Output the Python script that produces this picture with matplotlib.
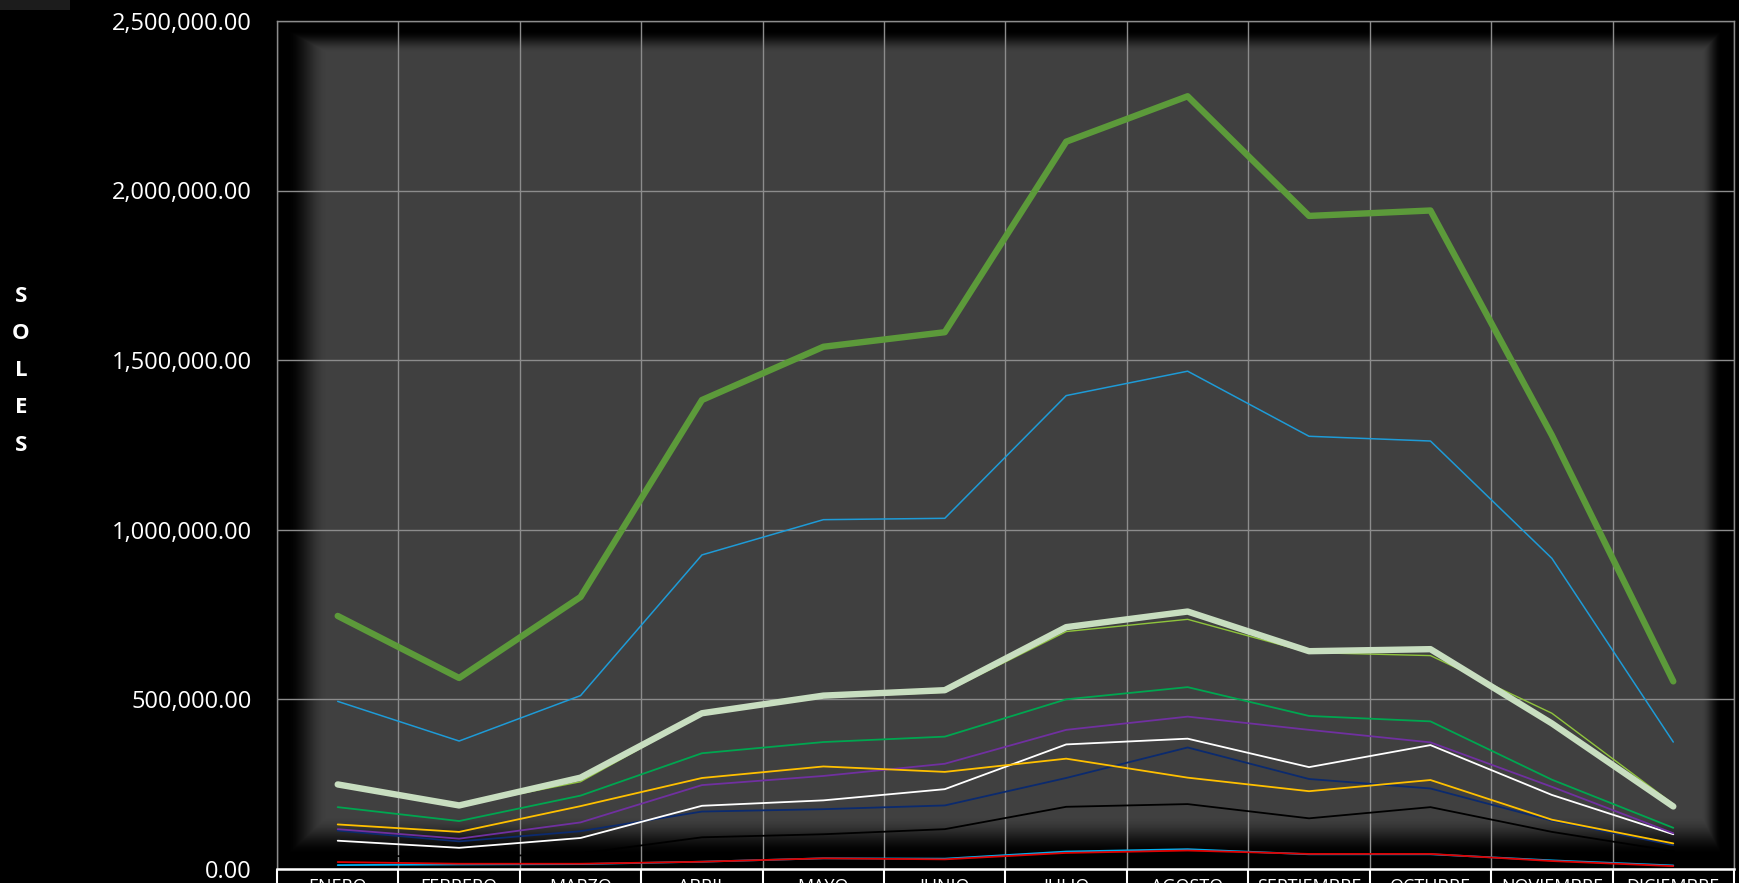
import numpy as np
import matplotlib
matplotlib.use("Agg")
import matplotlib.pyplot as plt
from matplotlib.ticker import FuncFormatter, FixedLocator
from matplotlib.patches import Rectangle

plt.rcParams["font.family"] = ["Open Sans", "DejaVu Sans"]

# months on the x axis
meses = ["ENERO", "FEBRERO", "MARZO", "ABRIL", "MAYO", "JUNIO", "JULIO",
         "AGOSTO", "SEPTIEMBRE", "OCTUBRE", "NOVIEMBRE", "DICIEMBRE"]

# values in soles
total = [745000, 562000, 801000, 1382000, 1539000, 1582000, 2144000,
         2278000, 1925000, 1941000, 1278000, 552000]
serie_azul = [493000, 376000, 510000, 925000, 1029000, 1033000, 1395000,
              1467000, 1275000, 1261000, 915000, 373000]
serie_palida = [248000, 186000, 268000, 458000, 510000, 526000, 712000,
                758000, 641000, 647000, 428000, 183000]
serie_lima = [245000, 185000, 256000, 455000, 505000, 520000, 699000,
              735000, 637000, 628000, 458000, 190000]
serie_verde = [181000, 140000, 215000, 340000, 373000, 389000, 499000,
               535000, 450000, 434000, 262000, 120000]
serie_naranja = [130000, 108000, 184000, 267000, 301000, 285000, 324000,
                 268000, 228000, 261000, 144000, 74000]
serie_morada = [116000, 88000, 136000, 246000, 273000, 309000, 409000,
                448000, 409000, 372000, 241000, 104000]
serie_blanca = [82000, 61000, 90000, 185000, 201000, 234000, 366000,
                383000, 299000, 364000, 217000, 101000]
serie_marino = [112000, 80000, 110000, 168000, 175000, 186000, 267000,
                357000, 264000, 236000, 141000, 69000]
serie_negra = [40000, 33000, 44000, 92000, 101000, 116000, 182000,
               190000, 148000, 181000, 108000, 51000]
serie_roja = [19000, 14000, 14000, 20000, 30000, 27000, 46000,
              53000, 43000, 43000, 22000, 7000]
serie_celeste = [10000, 12000, 13000, 20000, 30000, 29000, 50000,
                 57000, 42000, 42000, 24000, 9000]


def vignette(w, h):
    # inner shadow: black core at each edge, then a soft fade to the grey
    yy, xx = np.mgrid[0:h, 0:w]

    def fade(d, core, width):
        t = np.clip(1 - (d - core) / width, 0, 1)
        return t * t * (3 - 2 * t)

    a = np.maximum.reduce([
        fade(xx, 10.0, 40.0),
        fade(w - 1 - xx, 12.0, 20.0),
        fade(yy, 9.0, 22.0),
        fade(h - 1 - yy, 14.0, 38.0),
    ])
    img = np.zeros((h, w, 4))
    img[..., 3] = a
    return img


def plot_chart():

    fig = plt.figure(figsize=(17.40, 8.83), dpi=100, facecolor="black")
    ax = fig.add_axes([277 / 1740, 14.5 / 883, 1457 / 1740, 847.5 / 883])
    ax.set_facecolor("#404040")

    x = np.arange(len(meses))

    ax.imshow(vignette(1457, 848), extent=[0, 1, 0, 1],
              transform=ax.transAxes, aspect="auto", zorder=0.2,
              interpolation="bilinear")

    series = [
        (serie_celeste, "#00b0f0", 1.3),
        (serie_roja, "#e00000", 1.3),
        (serie_negra, "#000000", 1.3),
        (serie_marino, "#0b2a6e", 1.3),
        (serie_blanca, "#ffffff", 1.3),
        (serie_morada, "#7030a0", 1.3),
        (serie_naranja, "#ffc000", 1.3),
        (serie_verde, "#00a650", 1.3),
        (serie_lima, "#8fc43c", 1.0),
        (serie_palida, "#c8dec0", 4.6),
        (serie_azul, "#1e9bd7", 1.1),
        (total, "#5c9a3a", 4.6),
    ]
    for vals, color, lw in series:
        ax.plot(x, vals, color=color, linewidth=lw,
                solid_joinstyle="round", solid_capstyle="round", zorder=2)

    ax.set_xlim(-0.5, len(meses) - 0.5)
    ax.set_ylim(0, 2500000)
    ax.set_yticks(np.arange(0, 2500001, 500000))
    ax.yaxis.set_major_formatter(FuncFormatter(lambda v, p: f"{v:,.2f}"))

    ax.set_xticks(x)
    ax.set_xticklabels(meses)
    ax.xaxis.set_minor_locator(FixedLocator(np.arange(-0.5, len(meses), 1.0)))

    ax.set_axisbelow(True)
    ax.grid(True, which="minor", axis="x", color="#8c8c8c", linewidth=1.0, zorder=0.5)
    ax.grid(True, which="major", axis="y", color="#8c8c8c", linewidth=1.0, zorder=0.5)

    ax.tick_params(axis="y", length=0, pad=18, labelsize=17, labelcolor="white")
    ax.tick_params(axis="x", which="major", length=0, pad=7, labelsize=13,
                   labelcolor="white")
    ax.tick_params(axis="x", which="minor", length=30, width=1.5,
                   color="white", direction="out")

    for side in ["top", "right", "left"]:
        ax.spines[side].set_color("#8c8c8c")
        ax.spines[side].set_linewidth(1.0)
    ax.spines["bottom"].set_color("white")
    ax.spines["bottom"].set_linewidth(1.8)

    # vertical axis title, one letter under the other
    for i, letra in enumerate("SOLES"):
        fig.text(21 / 1740, 1 - (296 + i * 37.3) / 883, letra, color="white",
                 fontsize=16, fontweight="bold", ha="center", va="center")

    # faint box in the upper left corner
    fig.patches.append(Rectangle((0, 1 - 10 / 883), 70 / 1740, 10 / 883,
                                 transform=fig.transFigure,
                                 facecolor="#1c1c1c", edgecolor="none"))

    fig.savefig("out.png", dpi=100, facecolor="black")


if __name__ == "__main__":
    plot_chart()
